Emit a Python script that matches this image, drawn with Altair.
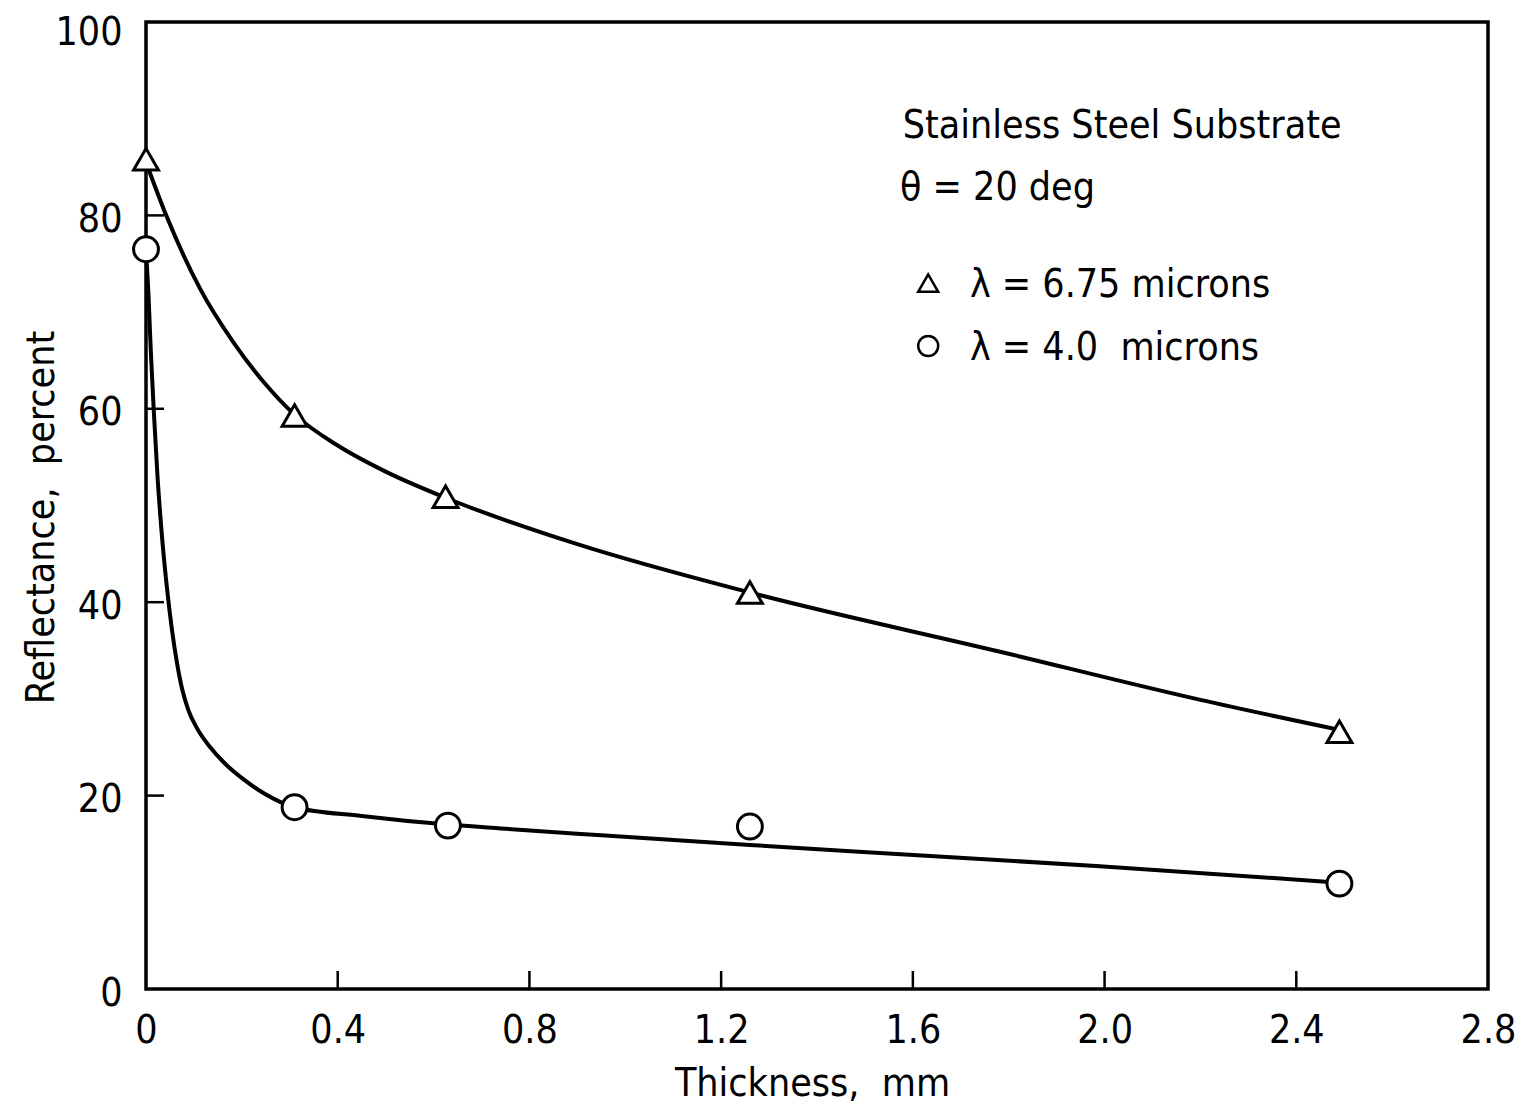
import altair as alt
import pandas as pd

FONT = "DejaVu Sans Condensed, Liberation Sans Narrow, Liberation Sans, sans-serif"
FS = 39

series_labels = ["λ = 6.75 microns", "λ = 4.0\u00a0\u00a0microns"]
series_shapes = ["triangle-up", "circle"]

# measured points
tri_x = [0.0, 0.31, 0.625, 1.26, 2.49]
tri_y = [85.8, 59.3, 50.9, 41.0, 26.6]
circ_x = [0.0, 0.31, 0.63, 1.26, 2.49]
circ_y = [76.5, 18.8, 16.9, 16.8, 10.9]

# faired curves
tri_curve_x = [0.0, 0.043, 0.113, 0.182, 0.245, 0.31, 0.40, 0.50, 0.625, 0.9, 1.26, 1.78, 2.2, 2.49]
tri_curve_y = [85.5, 79.9, 72.4, 66.9, 62.8, 59.4, 56.2, 53.5, 50.8, 46.0, 41.0, 34.9, 29.9, 26.8]
circ_curve_x = [0.0, 0.005, 0.010, 0.016, 0.024, 0.033, 0.043, 0.054, 0.064, 0.075, 0.088,
                0.106, 0.134, 0.161, 0.203, 0.244, 0.31, 0.45, 0.63, 0.74, 0.95, 1.26,
                1.47, 1.99, 2.49]
circ_curve_y = [76.5, 72.0, 66.0, 60.0, 53.0, 47.0, 41.8, 37.2, 33.9, 31.1, 28.9,
                27.0, 25.0, 23.5, 21.7, 20.3, 18.8, 17.9, 17.0, 16.6, 15.9, 14.9,
                14.25, 12.7, 11.0]

x_ticks = [0, 0.4, 0.8, 1.2, 1.6, 2.0, 2.4, 2.8]
y_ticks = [0, 20, 40, 60, 80, 100]
x_inner_ticks = [0.4, 0.8, 1.2, 1.6, 2.0, 2.4]
y_inner_ticks = [20, 40, 60, 80]

annot_text = ["Stainless Steel Substrate", "θ = 20 deg"]
annot_x = [1.579, 1.573]
annot_y = [88.0, 81.6]

legend_sym_x = [1.632, 1.632]
legend_sym_y = [73.0, 66.5]
legend_lab_x = [1.719, 1.719]
legend_lab_y = [71.6, 65.0]

points = pd.DataFrame(
    {"x": tri_x + circ_x, "y": tri_y + circ_y,
     "series": [series_labels[0]] * len(tri_x) + [series_labels[1]] * len(circ_x)}
)
curves = pd.DataFrame(
    {"x": tri_curve_x + circ_curve_x, "y": tri_curve_y + circ_curve_y,
     "series": [series_labels[0]] * len(tri_curve_x) + [series_labels[1]] * len(circ_curve_x),
     "order": list(range(len(tri_curve_x))) + list(range(len(circ_curve_x)))}
)
annots = pd.DataFrame({"x": annot_x, "y": annot_y, "text": annot_text})
leg_sym = pd.DataFrame({"x": legend_sym_x, "y": legend_sym_y, "series": series_labels})
leg_lab = pd.DataFrame({"x": legend_lab_x, "y": legend_lab_y, "text": series_labels})
xt = pd.DataFrame({"x": x_inner_ticks})
yt = pd.DataFrame({"y": y_inner_ticks})

W, H = 1342, 967

xscale = alt.Scale(domain=[0, 2.8], nice=False, zero=False)
yscale = alt.Scale(domain=[0, 100], nice=False)
shape_scale = alt.Scale(domain=series_labels, range=series_shapes)

xaxis = alt.Axis(values=x_ticks, labelExpr="datum.value == 0 ? '0' : format(datum.value, '.1f')",
                 title="Thickness,\u00a0\u00a0mm", labelPadding=22, labelFlush=False,
                 titleX=666, titleY=106, titleBaseline="alphabetic", titleAlign="center")
yaxis = alt.Axis(values=y_ticks, title="Reflectance,\u00a0\u00a0percent", labelPadding=24,
                 labelOffset={"condition": {"test": "datum.value == 100", "value": 10}, "value": 4},
                 labelFlush=False,
                 titleX=-93, titleY=495, titleBaseline="alphabetic", titleAlign="center",
                 titleAngle=270)

X = alt.X("x:Q", scale=xscale, axis=xaxis)
Y = alt.Y("y:Q", scale=yscale, axis=yaxis)

lines = alt.Chart(curves).mark_line(color="black", strokeWidth=4, interpolate="monotone").encode(
    x=X, y=Y, detail="series:N", order="order:Q",
)

pts = alt.Chart(points).mark_point(filled=True, fill="white", stroke="black", strokeWidth=3,
                                   size=620, opacity=1).encode(
    x=X, y=Y, shape=alt.Shape("series:N", scale=shape_scale, legend=None),
)

leg_pts = alt.Chart(leg_sym).mark_point(filled=True, fill="white", stroke="black", strokeWidth=2.5,
                                        size=400, opacity=1).encode(
    x=X, y=Y, shape=alt.Shape("series:N", scale=shape_scale, legend=None),
)

leg_text = alt.Chart(leg_lab).mark_text(align="left", baseline="alphabetic", fontSize=FS, font=FONT,
                                        color="black").encode(x=X, y=Y, text="text:N")

text = alt.Chart(annots).mark_text(align="left", baseline="alphabetic", fontSize=FS, font=FONT,
                                   color="black").encode(x=X, y=Y, text="text:N")

xtick_rules = alt.Chart(xt).mark_rule(color="black", strokeWidth=2.5).encode(
    x=X, y=alt.value(H), y2=alt.value(H - 18),
)
ytick_rules = alt.Chart(yt).mark_rule(color="black", strokeWidth=2.5).encode(
    y=Y, x=alt.value(0), x2=alt.value(18),
)

chart = alt.layer(lines, pts, leg_pts, leg_text, text, xtick_rules, ytick_rules).properties(
    width=W, height=H,
    autosize=alt.AutoSizeParams(type="none"),
    padding={"left": 138, "top": 14, "right": 29, "bottom": 120},
    background="white",
).configure_view(
    stroke="black", strokeWidth=3.5
).configure_axis(
    domain=False, ticks=False, grid=False,
    labelFont=FONT, labelFontSize=FS, labelColor="black",
    titleFont=FONT, titleFontSize=FS, titleColor="black", titleFontWeight="normal",
)

chart.save("out.html", embed_options={"renderer": "svg", "actions": False})
